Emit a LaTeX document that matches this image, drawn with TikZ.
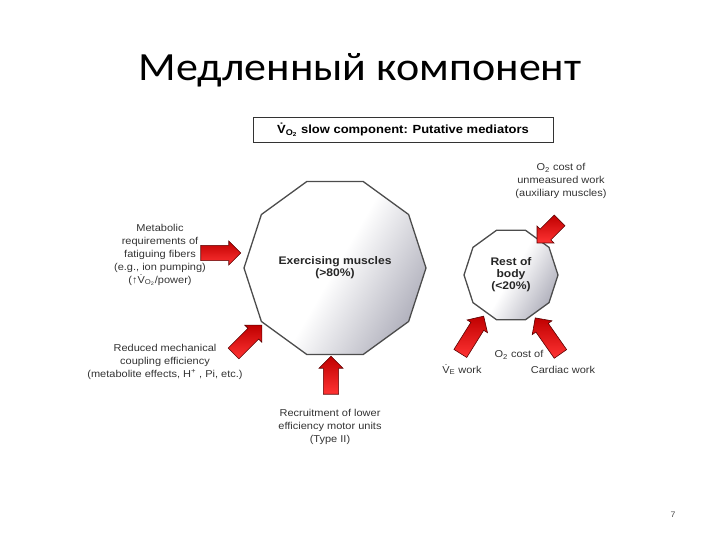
\documentclass[tikz,border=0pt]{standalone}
\usepackage{fontspec}
\setmainfont{Liberation Sans}[FakeStretch=1.1]
\newfontfamily\titlefont{Carlito}[FakeStretch=1.1]
\usetikzlibrary{shapes.geometric,shapes.arrows}
\begin{document}
\begin{tikzpicture}[x=1pt,y=-1pt,
  lbl/.style={align=center,font=\fontsize{10}{13}\selectfont,text=black!80,inner sep=0},
  organ/.style={regular polygon,regular polygon sides=10,draw=black!70,line width=1.3pt,
     left color=white,right color=blue!15!black!30,middle color=white,shading angle=60,
     align=center,font=\bfseries\fontsize{11}{15}\selectfont,text=black!85},
  blockarrow/.style={single arrow,draw=red!35!black,line width=0.6pt,
     top color=red!75!black,bottom color=red!80!white,
     minimum width=24pt,single arrow head extend=4pt,inner xsep=0pt,inner ysep=6.5pt}]
\useasboundingbox (0,0) rectangle (720,540);
\node[font=\titlefont\fontsize{40}{46}\selectfont] (title) at (360,70) {Медленный компонент};
\node[draw=black!80,line width=0.8pt,minimum width=300pt,minimum height=25pt,
  font=\bfseries\fontsize{11.8}{13}\selectfont] (hdr) at (403,130)
  {\.V\textsubscript{O\textsubscript{2}} slow component: Putative mediators};
\node[organ,minimum size=182pt] (ex) at (335,268) {Exercising muscles\\[-3pt](>80\%)};
\node[organ,minimum size=94pt] (rb) at (511,275) {Rest of\\[-3pt]body\\[-3pt](<20\%)};
\node[blockarrow,minimum height=40pt] (a1) at (217,253) {};
\node[blockarrow,minimum height=40pt,rotate=45] (a2) at (245,342) {};
\node[blockarrow,minimum height=38pt,rotate=90] (a3) at (331,379) {};
\node[blockarrow,minimum height=32pt,rotate=-135] (a4) at (551,229) {};
\node[blockarrow,minimum height=44pt,rotate=58] (a5) at (470,338) {};
\node[blockarrow,minimum height=44pt,rotate=125] (a6) at (550,339) {};
\node[lbl] (t1) at (160,255) {Metabolic\\requirements of\\fatiguing fibers\\(e.g., ion pumping)\\(\textuparrow\.V\textsubscript{O\textsubscript{2}}/power)};
\node[lbl] (t2) at (165,362) {Reduced mechanical\\coupling efficiency\\(metabolite effects, H\textsuperscript{+} , Pi, etc.)};
\node[lbl] (t3) at (330,427) {Recruitment of lower\\efficiency motor units\\(Type II)};
\node[lbl] (t4) at (561,181) {O\textsubscript{2} cost of\\unmeasured work\\(auxiliary muscles)};
\node[lbl] (t5) at (519,355) {O\textsubscript{2} cost of};
\node[lbl] (t6) at (462,370) {\.V\textsubscript{E} work};
\node[lbl] (t7) at (563,370) {Cardiac work};
\node[font=\fontsize{8}{10}\selectfont,text=black!70] (pg) at (673,515) {7};
\end{tikzpicture}
\end{document}
